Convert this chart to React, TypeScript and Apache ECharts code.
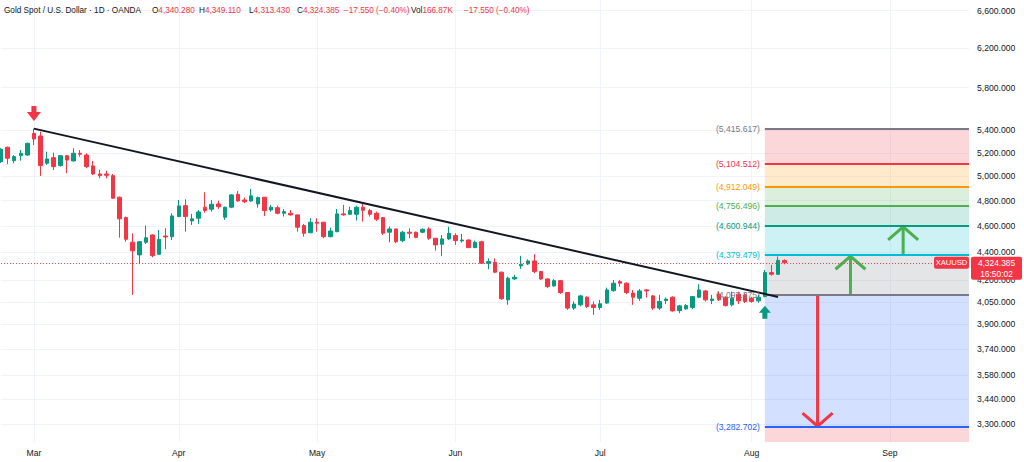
import React, { useEffect, useRef } from 'react';
import * as echarts from 'echarts';

// ---------- data ----------
const START_DATE = [2026, 1, 23]; // 2026-02-23 (month is 0-based)
const HOLIDAYS = ['2026-04-03'];
const TOTAL_SLOTS = 148; // trading-day slots on the time axis (incl. future space)

const opens = [
  5124, 5249, 5132, 5175, 5181, 5373, 5349, 5110, 5158, 5090,
  5175, 5130, 5196, 5181, 5087, 5019, 5019, 5005, 4827, 4665,
  4476, 4382, 4476, 4531, 4387, 4523, 4518, 4673, 4759, 4639,
  4660, 4747, 4731, 4773, 4668, 4747, 4851, 4805, 4797, 4773,
  4827, 4725, 4743, 4699, 4699, 4686, 4603, 4548, 4629, 4629,
  4518, 4556, 4694, 4691, 4691, 4747, 4720, 4699, 4665, 4552,
  4577, 4488, 4552, 4552, 4552, 4577, 4506, 4461, 4501, 4526,
  4486, 4493, 4436, 4480, 4321, 4328, 4257, 4064, 4209, 4302,
  4316, 4338, 4261, 4209, 4160, 4197, 4114, 4008, 4030, 4082,
  4030, 4012, 4042, 4127, 4190, 4179, 4110, 4075, 4132, 4091,
  4008, 4059, 4082, 3991, 4003, 4012, 4082, 4125, 4059, 4103,
  4082, 4030, 4103, 4098, 4075, 4057, 4086, 4254, 4242, 4340.28,
];
const highs = [
  5243, 5254, 5181, 5225, 5289, 5415.617, 5388, 5210, 5202, 5181,
  5181, 5240, 5225, 5196, 5130, 5053, 5047, 5019, 4832, 4673,
  4544, 4486, 4603, 4536, 4569, 4582, 4699, 4805, 4811, 4694,
  4725, 4867, 4805, 4799, 4751, 4851, 4878, 4824, 4894, 4832,
  4829, 4765, 4759, 4733, 4725, 4690, 4616, 4660, 4660, 4631,
  4587, 4733, 4765, 4751, 4759, 4773, 4733, 4712, 4670, 4595,
  4581, 4561, 4582, 4556, 4582, 4590, 4508, 4531, 4595, 4544,
  4539, 4498, 4488, 4488, 4357, 4357, 4261, 4225, 4238, 4375,
  4350, 4387, 4266, 4213, 4207, 4202, 4118, 4053, 4098, 4088,
  4053, 4064, 4148, 4202, 4202, 4185, 4132, 4139, 4137, 4098,
  4098, 4080, 4088, 4030, 4035, 4091, 4172, 4132, 4098, 4120,
  4088, 4120, 4120, 4109, 4084, 4098, 4273, 4309, 4370, 4349.11,
];
const lows = [
  5112, 5101, 5110, 5132, 5173, 5269, 5003, 5096, 5053, 5081,
  5025, 5124, 5167, 5067, 5011, 4983, 4983, 4813, 4510, 4480,
  4097.375, 4314, 4463, 4365, 4382, 4424, 4493, 4668, 4556, 4608,
  4616, 4704, 4712, 4733, 4647, 4739, 4791, 4779, 4791, 4743,
  4678, 4712, 4691, 4673, 4681, 4556, 4518, 4544, 4556, 4506,
  4513, 4552, 4681, 4686, 4642, 4634, 4673, 4639, 4531, 4476,
  4469, 4476, 4506, 4506, 4544, 4493, 4414, 4375, 4493, 4456,
  4473, 4432, 4432, 4316, 4278, 4250, 4064, 4030, 4202, 4280,
  4309, 4250, 4202, 4144, 4155, 4105, 3996, 3996, 4019, 4008,
  3963, 3996, 4035, 4120, 4155, 4103, 4030, 4057, 4080, 3996,
  3996, 4035, 3985, 3974, 3996, 4001, 4075, 4053, 4035, 4057,
  4019, 4019, 4035, 4042, 4044, 4044, 4081, 4232, 4238, 4313.43,
];
const closes = [
  5231, 5153, 5167, 5196, 5284, 5322, 5090, 5147, 5081, 5175,
  5138, 5196, 5188, 5081, 5019, 5005, 5008, 4819, 4655, 4498,
  4412, 4480, 4510, 4377, 4498, 4516, 4678, 4757, 4673, 4655,
  4709, 4720, 4771, 4751, 4747, 4846, 4797, 4791, 4838, 4824,
  4720, 4747, 4699, 4712, 4686, 4590, 4544, 4629, 4621, 4518,
  4561, 4694, 4686, 4720, 4747, 4722, 4691, 4652, 4544, 4577,
  4480, 4552, 4544, 4513, 4574, 4506, 4456, 4501, 4544, 4488,
  4493, 4436, 4476, 4321, 4333, 4257, 4071, 4214, 4221, 4314,
  4338, 4261, 4209, 4155, 4197, 4114, 4008, 4035, 4091, 4019,
  4012, 4037, 4132, 4179, 4179, 4114, 4082, 4125, 4125, 4008,
  4053, 4069, 3989, 4023, 4025, 4086, 4132, 4064, 4069, 4064,
  4025, 4075, 4057, 4053, 4053, 4082, 4254, 4242, 4341.935, 4324.385,
];

const PRICE_TICKS = [6600, 6200, 5800, 5400, 5200, 5000, 4800, 4600, 4400, 4200, 4050, 3900, 3740, 3580, 3440, 3300];
const Y_MIN = 3202;
const Y_MAX = 6719;

const FIB_LEVELS = [5415.617, 5104.512, 4912.049, 4756.496, 4600.944, 4379.479, 4097.375, 3282.702];
const FIB_LINE_COLORS = ['#787b86', '#f23645', '#ff9800', '#4caf50', '#089981', '#00bcd4', '#787b86', '#2962ff'];
const FIB_FILLS = [
  'rgba(242,54,69,0.2)', 'rgba(255,152,0,0.2)', 'rgba(76,175,80,0.2)', 'rgba(8,153,129,0.2)',
  'rgba(0,188,212,0.2)', 'rgba(120,123,134,0.2)', 'rgba(41,98,255,0.2)', 'rgba(242,54,69,0.2)',
];
const FIB_START = 116;
const FIB_END = 147;

const ARROW_X = [129, 137, 124];
const ARROW_FROM = [4097.375, 4379.479, 4097.375];
const ARROW_TO = [4379.479, 4600.944, 3282.702];
const ARROW_COLORS = ['#4caf50', '#4caf50', '#f23645'];

const TREND_X = [5, 118];
const TREND_Y = [5415.617, 4084];

const MARK_DOWN_IDX = 5;
const MARK_UP_IDX = 116;

const SYMBOL = 'XAUUSD';
const CLOCK = '16:50:02';
const TITLE = 'Gold Spot / U.S. Dollar \u00b7 1D \u00b7 OANDA';
const VOLUME = '166.87K';

// ---------- helpers ----------
const FONT = '"Liberation Sans", Arial, sans-serif';
const UP = '#089981';
const DOWN = '#f23645';
const TEXT = '#131722';
const GRID_LINE = '#f0f3fa';
const MONTHS = ['Jan', 'Feb', 'Mar', 'Apr', 'May', 'Jun', 'Jul', 'Aug', 'Sep', 'Oct', 'Nov', 'Dec'];

function buildDates(): string[] {
  const out: string[] = [];
  const d = new Date(Date.UTC(START_DATE[0], START_DATE[1], START_DATE[2]));
  while (out.length < TOTAL_SLOTS) {
    const wd = d.getUTCDay();
    const s = d.toISOString().slice(0, 10);
    if (wd !== 0 && wd !== 6 && HOLIDAYS.indexOf(s) < 0) out.push(s);
    d.setUTCDate(d.getUTCDate() + 1);
  }
  return out;
}
const dates = buildDates();
const isMonthStart = (i: number) => i > 0 && dates[i].slice(5, 7) !== dates[i - 1].slice(5, 7);

const fmt3 = (v: number) =>
  v.toLocaleString('en-US', { minimumFractionDigits: 3, maximumFractionDigits: 3 });
const fmtSigned = (v: number, d: number) =>
  (v < 0 ? '\u2212' : '+') + Math.abs(v).toLocaleString('en-US', { minimumFractionDigits: d, maximumFractionDigits: d });

export default function App() {
  const ref = useRef<HTMLDivElement>(null);

  useEffect(() => {
    document.body.style.margin = '0';
    if (!ref.current) return;
    const chart = echarts.init(ref.current, undefined, { renderer: 'svg' });

    const n = closes.length;
    const last = n - 1;
    const change = closes[last] - closes[last - 1];
    const pct = (change / closes[last - 1]) * 100;

    const candleData = opens.map((o, i) => [o, closes[i], lows[i], highs[i]]);

    const bandBounds = [...FIB_LEVELS, Y_MIN];
    const fibAreas = FIB_FILLS.map((c, i) => [
      { xAxis: dates[FIB_START], yAxis: bandBounds[i], itemStyle: { color: c } },
      { xAxis: dates[FIB_END], yAxis: bandBounds[i + 1] },
    ]);
    const fibLines = FIB_LEVELS.map((lv, i) => [
      {
        coord: [dates[FIB_START], lv],
        lineStyle: { color: FIB_LINE_COLORS[i], width: 2, type: 'solid' },
        label: {
          show: true,
          position: 'start',
          distance: 5,
          formatter: '(' + fmt3(lv) + ')',
          color: FIB_LINE_COLORS[i],
          fontSize: 8.6,
          fontFamily: FONT,
        },
      },
      { coord: [dates[FIB_END], lv] },
    ]);

    const option: any = {
      animation: false,
      backgroundColor: '#ffffff',
      grid: { left: 1, right: 55, top: 0, bottom: 20, outerBoundsMode: 'none', containLabel: false },
      xAxis: {
        type: 'category',
        data: dates,
        boundaryGap: false,
        axisLine: { show: false },
        axisTick: { show: false },
        axisLabel: {
          interval: (i: number) => isMonthStart(i),
          formatter: (v: string) => MONTHS[parseInt(v.slice(5, 7), 10) - 1],
          color: TEXT,
          fontSize: 8.6,
          fontFamily: FONT,
          margin: 6,
        },
        splitLine: {
          show: true,
          interval: (i: number) => isMonthStart(i),
          lineStyle: { color: GRID_LINE, width: 1 },
        },
      },
      yAxis: {
        type: 'log',
        position: 'right',
        min: Y_MIN,
        max: Y_MAX,
        axisLine: { show: false },
        axisTick: { show: false, customValues: PRICE_TICKS },
        axisLabel: {
          customValues: PRICE_TICKS,
          formatter: (v: number) => fmt3(v),
          color: TEXT,
          fontSize: 8.6,
          fontFamily: FONT,
          margin: 8,
        },
        splitLine: { show: true, lineStyle: { color: GRID_LINE, width: 1 } },
      },
      series: [
        {
          name: 'fib',
          type: 'line',
          data: [],
          z: 1,
          silent: true,
          markArea: { silent: true, data: fibAreas },
          markLine: { silent: true, symbol: ['none', 'none'], data: fibLines },
        },
        {
          name: 'arrows',
          type: 'custom',
          z: 2,
          silent: true,
          data: ARROW_X.map((x, i) => [x, ARROW_FROM[i], ARROW_TO[i]]),
          encode: { x: 0, y: [1, 2] },
          renderItem: (params: any, api: any) => {
            const i = params.dataIndex;
            const p0 = api.coord([api.value(0), api.value(1)]);
            const p1 = api.coord([api.value(0), api.value(2)]);
            const dir = p1[1] < p0[1] ? 1 : -1;
            const color = ARROW_COLORS[i];
            return {
              type: 'group',
              children: [
                {
                  type: 'line',
                  shape: { x1: p0[0], y1: p0[1], x2: p1[0], y2: p1[1] },
                  style: { stroke: color, lineWidth: 3 },
                },
                {
                  type: 'polyline',
                  shape: {
                    points: [
                      [p1[0] - 15, p1[1] + dir * 14],
                      [p1[0], p1[1] + dir * 1],
                      [p1[0] + 15, p1[1] + dir * 14],
                    ],
                  },
                  style: { stroke: color, lineWidth: 3, fill: 'none' },
                },
              ],
            };
          },
        },
        {
          name: 'XAUUSD',
          type: 'candlestick',
          z: 3,
          barWidth: 4,
          data: candleData,
          itemStyle: {
            color: UP,
            color0: DOWN,
            borderColor: UP,
            borderColor0: DOWN,
            borderWidth: 1,
          },
          markLine: {
            silent: true,
            symbol: ['none', 'none'],
            label: { show: false },
            lineStyle: { color: DOWN, type: [1, 2], width: 1, opacity: 0.9 },
            data: [{ yAxis: closes[last] }],
          },
        },
        {
          name: 'trend',
          type: 'line',
          data: [],
          z: 5,
          silent: true,
          markLine: {
            silent: true,
            symbol: ['none', 'none'],
            label: { show: false },
            lineStyle: { color: TEXT, width: 2, type: 'solid' },
            data: [[
              { coord: [dates[TREND_X[0]], TREND_Y[0]] },
              { coord: [dates[TREND_X[1]], TREND_Y[1]] },
            ]],
          },
        },
        {
          name: 'markDown',
          type: 'scatter',
          z: 6,
          silent: true,
          data: [[dates[MARK_DOWN_IDX], highs[MARK_DOWN_IDX]]],
          symbol: 'path://M4.5,0L9.5,0L9.5,6L14,6L7,15L0,6L4.5,6Z',
          symbolSize: [14, 15],
          symbolOffset: [0, -15],
          itemStyle: { color: DOWN, opacity: 1 },
        },
        {
          name: 'markUp',
          type: 'scatter',
          z: 6,
          silent: true,
          data: [[dates[MARK_UP_IDX], lows[MARK_UP_IDX]]],
          symbol: 'path://M6,0L12,7L8.5,7L8.5,13L3.5,13L3.5,7L0,7Z',
          symbolSize: [12, 13],
          symbolOffset: [0, 15],
          itemStyle: { color: UP, opacity: 1 },
        },
      ],
    };

    chart.setOption(option);

    const yPx = chart.convertToPixel({ yAxisIndex: 0 }, closes[last]) as number;
    const HFS = 8.2;
    const rich = {
      k: { fill: TEXT, fontSize: HFS, fontFamily: FONT },
      v: { fill: DOWN, fontSize: HFS, fontFamily: FONT },
    };
    const headerY = 10;
    const hText = (x: number, text: string) => ({
      type: 'text',
      x,
      y: headerY,
      z: 100,
      style: { text, rich, fill: TEXT, fontSize: HFS, fontFamily: FONT, verticalAlign: 'middle', align: 'left' },
    });
    const chg = fmtSigned(change, 3) + ' (' + fmtSigned(pct, 2) + '%)';

    chart.setOption({
      graphic: [
        hText(4, '{k|' + TITLE + '}'),
        hText(152, '{k|O}{v|' + fmt3(opens[last]) + '}'),
        hText(199, '{k|H}{v|' + fmt3(highs[last]) + '}'),
        hText(249, '{k|L}{v|' + fmt3(lows[last]) + '}'),
        hText(297, '{k|C}{v|' + fmt3(closes[last]) + '}'),
        hText(344, '{v|' + chg + '}'),
        hText(411, '{k|Vol}{v|' + VOLUME + '}'),
        hText(464, '{v|' + chg + '}'),
        {
          type: 'rect',
          z: 100,
          shape: { x: 934, y: yPx - 6, width: 35, height: 12, r: 2 },
          style: { fill: DOWN },
        },
        {
          type: 'text',
          z: 101,
          x: 951.5,
          y: yPx,
          style: {
            text: SYMBOL, fill: '#ffffff', fontSize: 7.6, fontFamily: FONT,
            align: 'center', verticalAlign: 'middle',
          },
        },
        {
          type: 'rect',
          z: 100,
          shape: { x: 971, y: yPx - 6, width: 51, height: 23, r: 2 },
          style: { fill: DOWN },
        },
        {
          type: 'text',
          z: 101,
          x: 996.5,
          y: yPx,
          style: {
            text: fmt3(closes[last]), fill: '#ffffff', fontSize: 8.4, fontFamily: FONT,
            align: 'center', verticalAlign: 'middle',
          },
        },
        {
          type: 'text',
          z: 101,
          x: 996.5,
          y: yPx + 11,
          style: {
            text: CLOCK, fill: '#ffffff', fontSize: 8.4, fontFamily: FONT,
            align: 'center', verticalAlign: 'middle',
          },
        },
      ],
    });

    return () => chart.dispose();
  }, []);

  return <div ref={ref} style={{ width: 1024, height: 462 }} />;
}
